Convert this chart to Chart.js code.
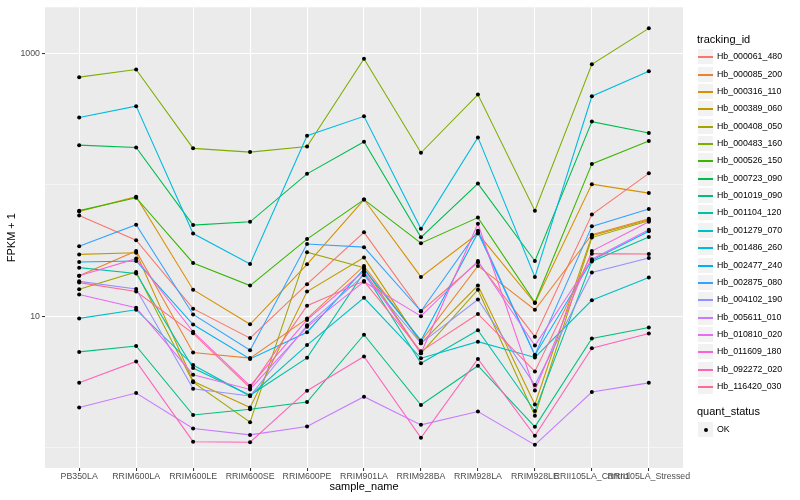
<!DOCTYPE html>
<html>
<head>
<meta charset="utf-8">
<script src="https://cdn.jsdelivr.net/npm/chart.js@4/dist/chart.umd.min.js"></script>
<style>
  html, body { margin: 0; padding: 0; background: #FFFFFF; }
  #wrap { position: relative; width: 800px; height: 500px; overflow: hidden; }
  #c { position: absolute; left: 0; top: 0; }
  .lg { position: absolute; font-family: "Liberation Sans", Arial, Helvetica, sans-serif; color: #000; white-space: nowrap; }
  .lgTitle { font-size: 11px; line-height: 11px; }
  .lgText { font-size: 8.8px; line-height: 17px; }
  .key { position: absolute; width: 17px; height: 17px; background: #F2F2F2; box-sizing: border-box; border: 1px solid #FFFFFF; }
  .keyLine { position: absolute; left: 0; right: 0; top: 7px; height: 1.5px; }
  .keyDot { position: absolute; left: 5.5px; top: 5.5px; width: 4px; height: 4px; border-radius: 50%; background: #000; }
</style>
</head>
<body>
<div id="wrap">
  <canvas id="c" width="800" height="500"></canvas>
  <div id="legend"></div>
</div>
<script>
// ---- data (FPKM + 1) ----
const categories = ["PB350LA", "RRIM600LA", "RRIM600LE", "RRIM600SE", "RRIM600PE", "RRIM901LA",
                    "RRIM928BA", "RRIM928LA", "RRIM928LE", "RRII105LA_Control", "RRII105LA_Stressed"];

const tracking_ids = ["Hb_000061_480", "Hb_000085_200", "Hb_000316_110", "Hb_000389_060", "Hb_000408_050",
  "Hb_000483_160", "Hb_000526_150", "Hb_000723_090", "Hb_001019_090", "Hb_001104_120", "Hb_001279_070",
  "Hb_001486_260", "Hb_002477_240", "Hb_002875_080", "Hb_004102_190", "Hb_005611_010", "Hb_010810_020",
  "Hb_011609_180", "Hb_092272_020", "Hb_116420_030"];

const Hb_000061_480 = [58.2, 37.8, 11.4, 6.81, 17.5, 43.4, 10.9, 25.7, 6.98, 59.3, 122];
const Hb_000085_200 = [20.3, 31.3, 5.29, 4.8, 9.58, 24.1, 6.43, 24.1, 11.2, 41.7, 55.0];
const Hb_000316_110 = [62.5, 81, 15.9, 8.68, 24.8, 77.1, 19.9, 42.5, 12.6, 101, 86.3];
const Hb_000389_060 = [29.5, 30.4, 3.20, 2.02, 15.4, 27.9, 6.21, 17.1, 2.13, 41.0, 54.1];
const Hb_000408_050 = [16.0, 21.7, 3.15, 1.56, 30.7, 23.4, 5.22, 15.9, 1.75, 39.6, 53.2];
const Hb_000483_160 = [658, 752, 189, 177, 195, 909, 175, 485, 63.5, 824, 1546];
const Hb_000526_150 = [63.5, 79.6, 25.4, 17.1, 38.6, 77.1, 35.9, 56.2, 12.7, 144, 215];
const Hb_000723_090 = [200, 192, 49.3, 52.2, 121, 212, 39.8, 102, 26.3, 302, 247];
const Hb_001019_090 = [5.35, 5.93, 1.77, 1.96, 2.22, 7.22, 2.11, 4.20, 1.44, 6.77, 8.20];
const Hb_001104_120 = [23.4, 21.1, 4.03, 2.5, 4.82, 21.5, 4.39, 7.82, 1.9, 26.1, 40];
const Hb_001279_070 = [9.62, 11.2, 4.25, 2.47, 6.03, 13.8, 4.79, 6.40, 4.85, 13.2, 19.7];
const Hb_001486_260 = [324, 396, 42.5, 24.9, 236, 331, 46.2, 229, 19.9, 471, 730];
const Hb_002477_240 = [25.8, 26.3, 8.63, 4.73, 7.55, 22.8, 6.54, 43.2, 5.05, 26.6, 44.2];
const Hb_002875_080 = [34.0, 49.6, 10.3, 5.50, 35.4, 33.5, 10.9, 44.7, 5.07, 48.2, 65.4];
const Hb_004102_190 = [18.4, 16.1, 2.80, 2.47, 8.53, 20.5, 6.21, 13.4, 2.99, 21.5, 27.7];
const Hb_005611_010 = [2.02, 2.60, 1.40, 1.25, 1.45, 2.44, 1.49, 1.88, 1.05, 2.65, 3.11];
const Hb_010810_020 = [14.6, 11.6, 3.59, 2.77, 8.3, 18.3, 10.0, 26.3, 5.97, 27.1, 45.5];
const Hb_011609_180 = [20.3, 27.4, 7.61, 2.95, 9.36, 22.0, 5.22, 50.5, 2.72, 31.3, 52.2];
const Hb_092272_020 = [3.11, 4.53, 1.11, 1.10, 2.71, 4.93, 1.19, 4.73, 1.23, 5.70, 7.38];
const Hb_116420_030 = [18.0, 15.4, 7.4, 2.85, 12.0, 18.5, 5.4, 10.4, 3.80, 29.9, 29.7];

const seriesValues = [Hb_000061_480, Hb_000085_200, Hb_000316_110, Hb_000389_060, Hb_000408_050,
  Hb_000483_160, Hb_000526_150, Hb_000723_090, Hb_001019_090, Hb_001104_120, Hb_001279_070,
  Hb_001486_260, Hb_002477_240, Hb_002875_080, Hb_004102_190, Hb_005611_010, Hb_010810_020,
  Hb_011609_180, Hb_092272_020, Hb_116420_030];

const seriesColors = ["#F8766D", "#EA8331", "#D89000", "#C09B00", "#A3A500", "#7CAE00", "#39B600",
  "#00BB4E", "#00BF7D", "#00C1A3", "#00BFC4", "#00BAE0", "#00B0F6", "#35A2FF", "#9590FF", "#C77CFF",
  "#E76BF3", "#FA62DB", "#FF62BC", "#FF6C91"];

const yGridValues = [1, 10, 100, 1000];
const yTickLabels = [10, 1000];
const quantStatus = ["OK"];

// ---- chart ----
const FONT = '"Liberation Sans", Arial, Helvetica, sans-serif';
const yMin = Math.pow(10, -0.1316);
const yMax = Math.pow(10, 3.3496);

const panelBg = {
  id: 'panelBg',
  beforeDraw(chart) {
    const { ctx, chartArea: a } = chart;
    ctx.save();
    ctx.fillStyle = '#EBEBEB';
    ctx.fillRect(a.left, a.top, a.right - a.left, a.bottom - a.top);
    ctx.restore();
  }
};

const datasets = [];
seriesValues.forEach((vals, i) => {
  datasets.push({
    label: tracking_ids[i],
    data: vals.map((v, j) => ({ x: j, y: v })),
    borderColor: seriesColors[i],
    backgroundColor: seriesColors[i],
    borderWidth: 1.07,
    pointRadius: 0,
    tension: 0,
    fill: false,
    order: 20 - i
  });
});
seriesValues.forEach((vals, i) => {
  datasets.push({
    label: tracking_ids[i] + ' ' + quantStatus[0],
    data: vals.map((v, j) => ({ x: j, y: v })),
    showLine: false,
    pointRadius: 2,
    pointBorderWidth: 0,
    pointBackgroundColor: '#000000',
    pointBorderColor: '#000000',
    order: 0
  });
});

new Chart(document.getElementById('c'), {
  type: 'line',
  data: { datasets },
  options: {
    responsive: false,
    animation: false,
    events: [],
    layout: { padding: { left: 0, right: 117, top: 5, bottom: 0 } },
    plugins: { legend: { display: false }, tooltip: { enabled: false } },
    scales: {
      x: {
        type: 'linear',
        min: -0.6,
        max: 10.6,
        afterBuildTicks: (axis) => { axis.ticks = categories.map((c, i) => ({ value: i })); },
        afterFit: (axis) => { axis.height = 32; },
        ticks: {
          callback: (v) => categories[v] !== undefined ? categories[v] : '',
          autoSkip: false, maxRotation: 0, minRotation: 0, padding: 0,
          color: '#4D4D4D', font: { family: FONT, size: 8.8 }
        },
        grid: { color: '#FFFFFF', lineWidth: 1.07, tickLength: 3, tickColor: '#333333', tickWidth: 1.07 },
        border: { display: false },
        title: { display: true, text: 'sample_name', color: '#000000',
                 font: { family: FONT, size: 11 }, padding: { top: 0, bottom: 6.4 } }
      },
      y: {
        type: 'logarithmic',
        min: yMin,
        max: yMax,
        afterBuildTicks: (axis) => { axis.ticks = yGridValues.map(v => ({ value: v })); },
        afterFit: (axis) => { axis.width = 45; },
        ticks: {
          callback: (v) => yTickLabels.includes(v) ? String(v) : '',
          autoSkip: false, padding: 2,
          color: '#4D4D4D', font: { family: FONT, size: 8.8 }
        },
        grid: {
          color: '#FFFFFF',
          lineWidth: (ctx) => (ctx.tick && yTickLabels.includes(ctx.tick.value)) ? 1.07 : 0.53,
          tickLength: 3,
          tickColor: (ctx) => (ctx.tick && yTickLabels.includes(ctx.tick.value)) ? '#333333' : 'rgba(0,0,0,0)',
          tickWidth: 1.07
        },
        border: { display: false },
        title: { display: true, text: 'FPKM + 1', color: '#000000',
                 font: { family: FONT, size: 11 }, padding: { top: 5.4, bottom: 0 } }
      }
    }
  },
  plugins: [panelBg]
});

// ---- legend (HTML) ----
(function buildLegend() {
  const lg = document.getElementById('legend');
  const left = 697, textLeft = 717, step = 17.36, firstCenter = 56.7;
  const add = (html) => { lg.insertAdjacentHTML('beforeend', html); };
  add(`<div class="lg lgTitle" style="left:${left}px;top:34px;">tracking_id</div>`);
  tracking_ids.forEach((id, k) => {
    const top = Math.round(firstCenter + step * k - 8.5);
    add(`<div class="key" style="left:${left}px;top:${top}px;"><div class="keyLine" style="background:${seriesColors[k]}"></div></div>`);
    add(`<div class="lg lgText" style="left:${textLeft}px;top:${top}px;">${id}</div>`);
  });
  add(`<div class="lg lgTitle" style="left:${left}px;top:406px;">quant_status</div>`);
  const top = Math.round(429 - 8.5);
  add(`<div class="key" style="left:${left}px;top:${top}px;"><div class="keyDot"></div></div>`);
  add(`<div class="lg lgText" style="left:${textLeft}px;top:${top}px;">${quantStatus[0]}</div>`);
})();
</script>
</body>
</html>
